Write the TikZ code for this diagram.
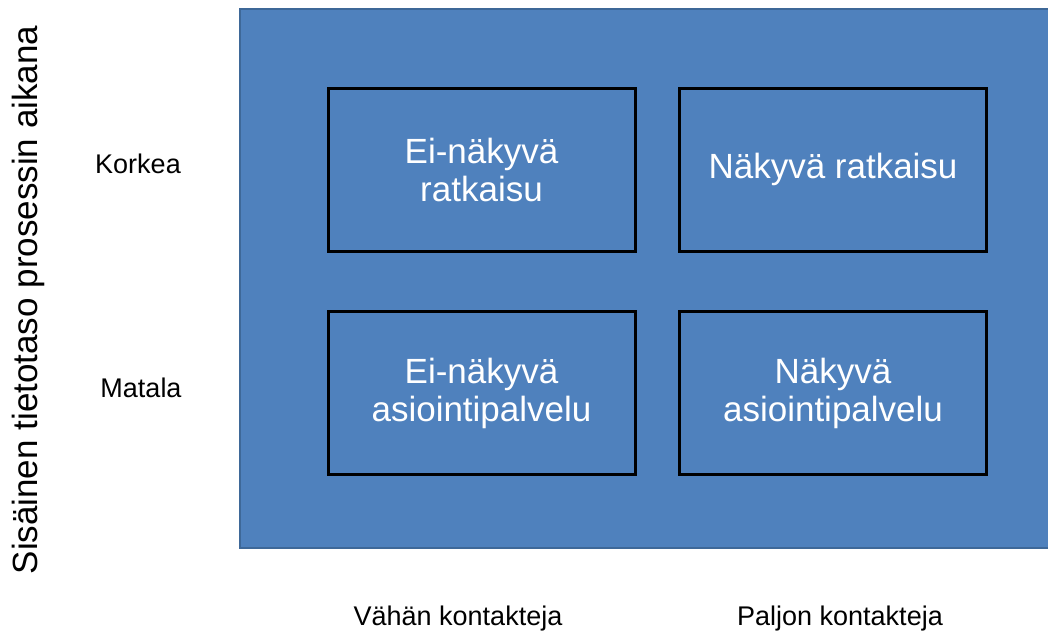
\documentclass[tikz,border=0pt]{standalone}
\usepackage{fontspec}
\setmainfont{Liberation Sans}
\definecolor{panelblue}{HTML}{4F81BD}
\definecolor{paneledge}{HTML}{3E6898}
\begin{document}
\begin{tikzpicture}[x=1pt,y=-1pt,
  quad/.style={draw=black,line width=3pt,minimum width=307pt,minimum height=163pt,align=center,text=white,font=\fontsize{35}{38}\selectfont,inner sep=0pt},
  axislab/.style={font=\fontsize{27}{30}\selectfont,text=black,inner sep=0pt}]
\useasboundingbox (0,0) rectangle (1048,637);
\fill[white] (0,0) rectangle (1048,637);
\path[fill=panelblue,draw=paneledge,line width=2pt] (240,9) rectangle (1060,548);
\node[quad] (q1) at (481.5,169.5) {Ei-näkyvä\\ratkaisu};
\node[quad] (q2) at (833,169.5) {Näkyvä ratkaisu};
\node[quad] (q3) at (481.5,393) {Ei-näkyvä\\asiointipalvelu};
\node[quad] (q4) at (833,393) {Näkyvä\\asiointipalvelu};
\node[axislab] (hi) at (138,164) {Korkea};
\node[axislab] (lo) at (141,388) {Matala};
\node[axislab] (few) at (458,619) {Vähän kontakteja};
\node[axislab] (many) at (840,619) {Paljon kontakteja};
\node[font=\fontsize{35}{38}\selectfont,rotate=90,inner sep=0pt] (yl) at (28,300) {Sisäinen tietotaso prosessin aikana};
\end{tikzpicture}
\end{document}
